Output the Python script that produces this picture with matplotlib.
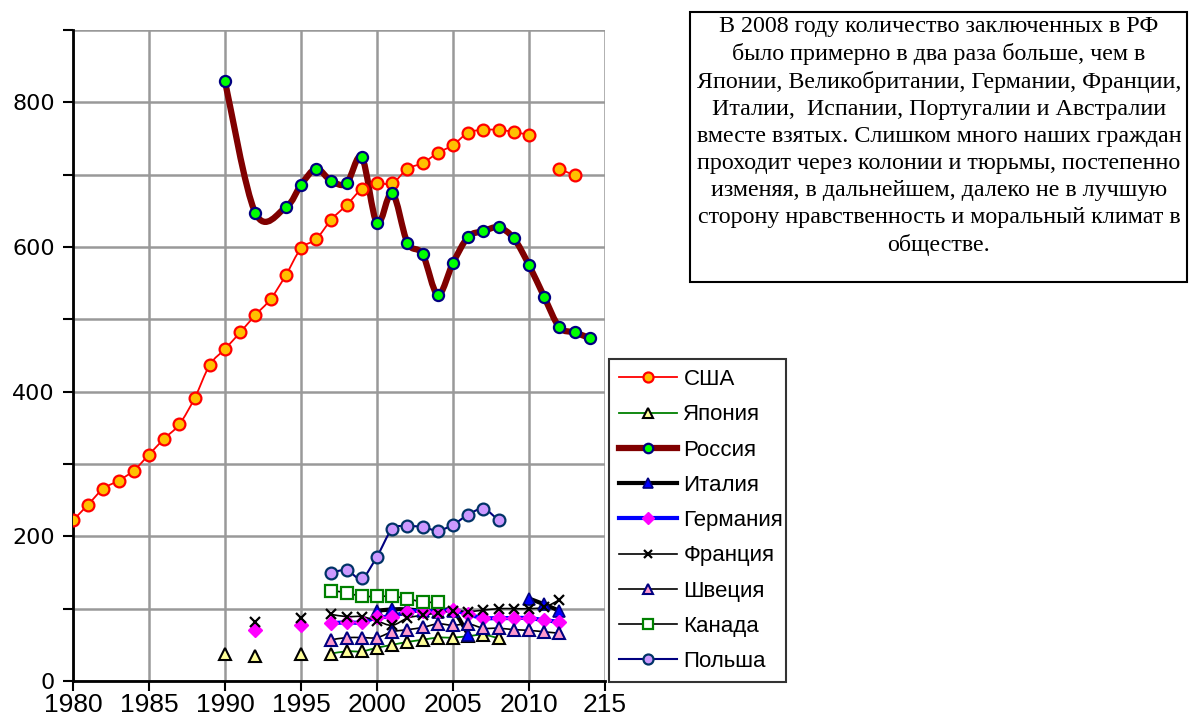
import numpy as np
import matplotlib
matplotlib.use("Agg")
import matplotlib.pyplot as plt
from matplotlib.path import Path
from matplotlib.patches import PathPatch, Rectangle
from matplotlib.lines import Line2D
from matplotlib.ticker import MultipleLocator, FixedLocator, FixedFormatter

nan = np.nan

years_usa = list(range(1980, 2014))
usa = [222, 244, 266, 277, 291, 313, 335, 355, 391, 437, 459, 482, 506, 528, 561, 598,
       611, 638, 658, 680, 688, 688, 708, 716, 730, 741, 758, 762, 762, 759, 755, nan, 708, 699]

years_rus = [1990, 1992, 1994, 1995, 1996, 1997, 1998, 1999, 2000, 2001, 2002, 2003, 2004,
             2005, 2006, 2007, 2008, 2009, 2010, 2011, 2012, 2013, 2014]
russia = [829, 647, 655, 686, 708, 691, 688, 724, 633, 675, 606, 590, 534, 578, 614, 622,
          627, 612, 575, 531, 489, 482, 474]

years_jpn = list(range(1990, 2009))
japan = [37, nan, 34, nan, nan, 37, nan, 38, 41, 41, 46, 50, 54, 57, 60, 60, 62, 64, 59]

years_ita = list(range(2000, 2013))
italy = [97, 99, 99, 97, 96, 97, 64, nan, nan, nan, 114, 106, 97]

years_ger = list(range(1992, 2013))
germany = [70, nan, nan, 78, nan, 80, 81, 81, 88, 89, 96, 97, 96, 98, 92, 87, 87, 87, 87, 84, 82]

years_fra = list(range(1992, 2013))
france = [81, nan, nan, 87, nan, 92, 89, 89, 83, 77, 87, 91, 94, 97, 96, 98, 100, 100, 100, 102, 112]

years_swe = list(range(1997, 2013))
sweden = [57, 60, 60, 60, 68, 71, 74, 79, 77, 79, 73, 73, 71, 70, 68, 66]

years_can = list(range(1997, 2005))
canada = [125, 122, 117, 117, 117, 114, 109, 109]

years_pol = list(range(1997, 2009))
poland = [150, 153, 142, 172, 210, 214, 213, 208, 216, 230, 238, 222]

labels = ["США", "Япония", "Россия", "Италия", "Германия", "Франция", "Швеция", "Канада", "Польша"]
xtick_vals = [1980, 1985, 1990, 1995, 2000, 2005, 2010, 2015]
xtick_labels = ["1980", "1985", "1990", "1995", "2000", "2005", "2010", "215"]
ytick_vals = [0, 200, 400, 600, 800]

note = ("В 2008 году количество заключенных в РФ\n"
        "было примерно в два раза больше, чем в\n"
        "Японии, Великобритании, Германии, Франции,\n"
        "Италии,  Испании, Португалии и Австралии\n"
        "вместе взятых. Слишком много наших граждан\n"
        "проходит через колонии и тюрьмы, постепенно\n"
        "изменяя, в дальнейшем, далеко не в лучшую\n"
        "сторону нравственность и моральный климат в\n"
        "обществе.")

styles = [
    dict(color="#FF0000", lw=1.3, marker="o", ms=8.5, mfc="#FFC000", mec="#FF0000", mew=1.6),
    dict(color="#008000", lw=1.3, marker="^", ms=9, mfc="#FFFF99", mec="#000000", mew=1.5),
    dict(color="#800000", lw=4.5, marker="o", ms=8, mfc="#00FF00", mec="#000080", mew=1.6),
    dict(color="#000000", lw=3.0, marker="^", ms=9, mfc="#0000FF", mec="#000080", mew=1.2),
    dict(color="#0000FF", lw=3.0, marker="D", ms=7.5, mfc="#FF00FF", mec="#FF00FF", mew=1.0),
    dict(color="#000000", lw=1.2, marker="x", ms=7, mfc="#000000", mec="#000000", mew=1.6),
    dict(color="#000000", lw=1.2, marker="^", ms=9, mfc="#FF99CC", mec="#000080", mew=1.5),
    dict(color="#000000", lw=1.2, marker="s", ms=8, mfc="#FFFFFF", mec="#008000", mew=1.6),
    dict(color="#000080", lw=1.5, marker="o", ms=8.5, mfc="#CC99FF", mec="#003366", mew=1.6),
]

series = [(years_usa, usa), (years_jpn, japan), (years_rus, russia), (years_ita, italy),
          (years_ger, germany), (years_fra, france), (years_swe, sweden), (years_can, canada),
          (years_pol, poland)]


def smooth_path(x, y):
    """Excel-like smoothed line through the given points (Bezier)."""
    n = len(x)
    verts = [(x[0], y[0])]
    codes = [Path.MOVETO]
    if n == 2:
        verts.append((x[1], y[1]))
        codes.append(Path.LINETO)
        return Path(verts, codes)
    for i in range(n - 1):
        x0, y0 = (x[i - 1], y[i - 1]) if i > 0 else (x[i], y[i])
        x1, y1 = x[i], y[i]
        x2, y2 = x[i + 1], y[i + 1]
        x3, y3 = (x[i + 2], y[i + 2]) if i + 2 < n else (x2, y2)
        c1 = (x1 + (x2 - x0) / 6.0, y1 + (y2 - y0) / 6.0)
        c2 = (x2 - (x3 - x1) / 6.0, y2 - (y3 - y1) / 6.0)
        verts += [c1, c2, (x2, y2)]
        codes += [Path.CURVE4] * 3
    return Path(verts, codes)


fig = plt.figure(figsize=(11.89, 7.2), dpi=100)
ax = fig.add_axes([73 / 1189, 1 - 681 / 720, (605 - 73) / 1189, (681 - 30) / 720])
ax.set_xlim(1980, 2015)
ax.set_ylim(0, 900)

for (xs, ys), st in zip(series, styles):
    xs = np.asarray(xs, float)
    ys = np.asarray(ys, float)
    ok = np.isfinite(ys)
    idx = np.where(ok)[0]
    runs = []
    if len(idx):
        start = idx[0]
        prev = idx[0]
        for k in idx[1:]:
            if k != prev + 1:
                runs.append((start, prev))
                start = k
            prev = k
        runs.append((start, prev))
    for a, b in runs:
        if b > a:
            p = smooth_path(xs[a:b + 1], ys[a:b + 1])
            ax.add_patch(PathPatch(p, fill=False, edgecolor=st["color"], lw=st["lw"],
                                   capstyle="round", joinstyle="round", zorder=2))
    ax.plot(xs[ok], ys[ok], ls="none", marker=st["marker"], ms=st["ms"], mfc=st["mfc"],
            mec=st["mec"], mew=st["mew"], zorder=3)

ax.xaxis.set_major_locator(FixedLocator(xtick_vals))
ax.xaxis.set_major_formatter(FixedFormatter(xtick_labels))
ax.yaxis.set_major_locator(FixedLocator(ytick_vals))
ax.yaxis.set_minor_locator(MultipleLocator(100))
ax.grid(True, which="both", color="#999999", lw=1.8)
ax.set_axisbelow(True)
ax.tick_params(which="both", direction="out", length=7, width=1.5, color="black")
ax.tick_params(axis="x", labelsize=19, pad=2)
ax.tick_params(axis="y", labelsize=16, pad=6)
for lab in ax.get_xticklabels():
    lab.set_family(["Liberation Sans Narrow", "Liberation Sans", "DejaVu Sans"])
for lab in ax.get_yticklabels():
    lab.set_family(["DejaVu Sans"])
for s in ["top", "right"]:
    ax.spines[s].set_visible(False)
for s in ["left", "bottom"]:
    ax.spines[s].set_linewidth(2)
    ax.spines[s].set_color("black")

handles = [Line2D([0], [0], color=st["color"], lw=st["lw"], marker=st["marker"], ms=st["ms"] * 0.85,
                  mfc=st["mfc"], mec=st["mec"], mew=st["mew"]) for st in styles]
leg = fig.legend(handles, labels, loc="lower left",
                 bbox_to_anchor=(609 / 1189, 1 - 682 / 720, 177 / 1189, 322 / 720),
                 mode="expand", frameon=True, fancybox=False, borderaxespad=0,
                 prop={"family": ["Liberation Sans", "DejaVu Sans"], "size": 16},
                 handlelength=2.6, handletextpad=0.3, labelspacing=0.64,
                 borderpad=0.45)
leg.get_frame().set_edgecolor("black")
leg.get_frame().set_linewidth(1.5)

fig.patches.append(Rectangle((690 / 1189, 1 - 282 / 720), (1187 - 690) / 1189, 270 / 720,
                             transform=fig.transFigure, fill=False, edgecolor="black", lw=1.5))
fig.text(939 / 1189, 1 - 136 / 720, note, ha="center", va="center", multialignment="center",
         family=["Liberation Serif", "DejaVu Serif"], fontsize=17.3, linespacing=1.37)

fig.savefig("out.png", dpi=100)
